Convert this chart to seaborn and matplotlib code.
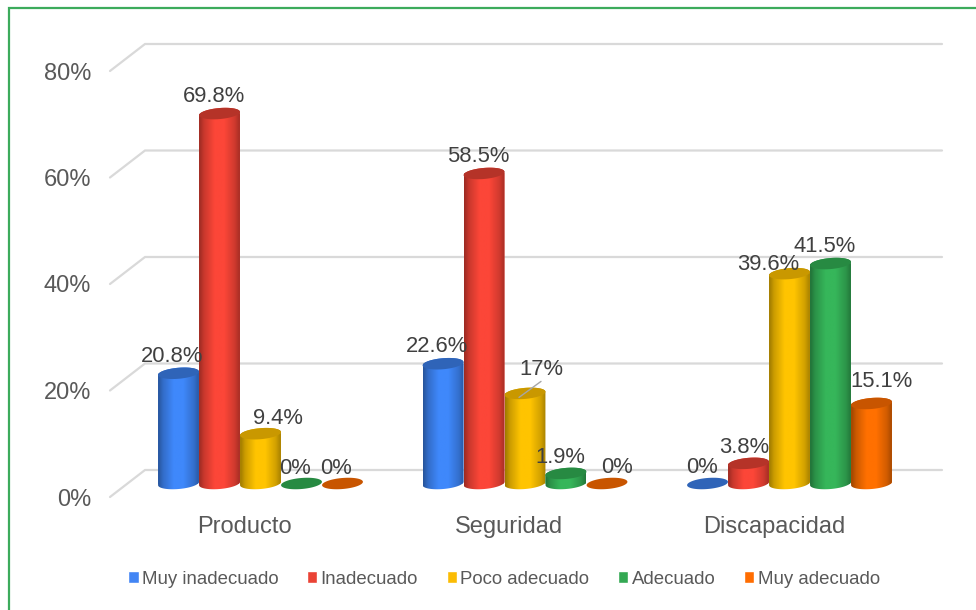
import numpy as np
import pandas as pd
import matplotlib
matplotlib.use("Agg")
import matplotlib.pyplot as plt
import seaborn as sns
from matplotlib.lines import Line2D
from matplotlib.patches import Polygon
from matplotlib.path import Path
from matplotlib.colors import to_rgb
from matplotlib.transforms import IdentityTransform

# ---- data ----
categories = ["Producto", "Seguridad", "Discapacidad"]
series_names = ["Muy inadecuado", "Inadecuado", "Poco adecuado", "Adecuado", "Muy adecuado"]
muy_inadecuado = [20.8, 22.6, 0]
inadecuado = [69.8, 58.5, 3.8]
poco_adecuado = [9.4, 17, 39.6]
adecuado = [0, 1.9, 41.5]
muy_adecuado = [0, 0, 15.1]
label_texts = [
    ["20.8%", "22.6%", "0%"],
    ["69.8%", "58.5%", "3.8%"],
    ["9.4%", "17%", "39.6%"],
    ["0%", "1.9%", "41.5%"],
    ["0%", "0%", "15.1%"],
]
y_ticks = [0, 20, 40, 60, 80]
y_tick_labels = ["0%", "20%", "40%", "60%", "80%"]

# ---- style ----
legend_colors = ["#4285F4", "#EA4335", "#FBBC04", "#34A853", "#FF6D01"]
body_colors = ["#3F88FB", "#FC4638", "#FFC400", "#36B65A", "#FF7000"]
top_colors = ["#2F64B8", "#B53328", "#C99800", "#278A42", "#C85500"]
label_offsets = [  # pixels from bar centre / bar top
    [(-6.5, 17), (-6, 17), (-5.5, 16)],
    [(-5.5, 17), (-6, 17), (-4.5, 16)],
    [(17.5, 15), (16, 24), (-21.5, 9)],
    [(-6.5, 15), (-6, 16), (-5.5, 17)],
    [(-6.5, 15), (10, 16), (10.5, 22)],
]
W, H = 976, 610
AXIS_GREY = "#595959"
LABEL_GREY = "#404040"

sns.set_theme(style="white")
plt.rcParams["font.family"] = ["Liberation Sans", "DejaVu Sans"]

df = pd.DataFrame({
    "categoria": categories * len(series_names),
    "serie": np.repeat(series_names, len(categories)),
    "valor": muy_inadecuado + inadecuado + poco_adecuado + adecuado + muy_adecuado,
})

fig = plt.figure(figsize=(W / 100, H / 100), dpi=100, facecolor="white")


def px_rect(left, top, right, bottom):
    return [left / W, 1 - bottom / H, (right - left) / W, (bottom - top) / H]


# ---- back wall axes: percent ticks, categories, grid ----
wall = fig.add_axes(px_rect(110, 71, 907, 497), zorder=0)
wall.set_ylim(0, 80)
wall.set_xlim((110 - 244.5) / 264.7, (907 - 244.5) / 264.7)
wall.set_yticks(y_ticks, y_tick_labels)
wall.set_xticks(range(len(categories)), categories)
wall.tick_params(axis="y", length=0, pad=13.5, labelsize=17, labelcolor=AXIS_GREY)
wall.tick_params(axis="x", length=0, pad=13.5, labelsize=17, labelcolor=AXIS_GREY)
sns.despine(ax=wall, left=True, bottom=True)
wall.grid(False)
for tick in y_ticks:
    px, py = wall.transData.transform((wall.get_xlim()[0], tick))
    wall.add_line(Line2D([px, px + 35, 942], [py, py + 27, py + 27],
                         transform=IdentityTransform(), color="#D9D9D9", lw=1.6,
                         clip_on=False, solid_joinstyle="miter"))
# the lowest percent label sits slightly above its tick in the reference
for label, nudge in zip(wall.get_yticklabels(), [1.5, 0.5, 0, 0, 0]):
    label.set_y(nudge * 80 / 426)

# ---- bars ----
ax = fig.add_axes([0, 0, 1, 1], zorder=1)
sns.barplot(data=df, x="categoria", y="valor", hue="serie", order=categories,
            hue_order=series_names, palette=legend_colors, width=0.775, gap=0,
            saturation=1, ax=ax, errorbar=None)
ax.patch.set_alpha(0)
xlim = (-260.5 / 264.5, (W - 260.5) / 264.5)
ylim = (-(H - 483.5) / 5.3, 483.5 / 5.3)
ax.set_xlim(xlim)
ax.set_ylim(ylim)
ax.set_axis_off()

THETA = np.deg2rad(5)
B = 5.5


def ellipse_points(cx, cy, a, t):
    return np.column_stack([
        cx + a * np.cos(t) * np.cos(THETA) - B * np.sin(t) * np.sin(THETA),
        cy + a * np.cos(t) * np.sin(THETA) + B * np.sin(t) * np.cos(THETA),
    ])


ramp_pos = [0, 0.12, 0.38, 0.62, 0.88, 1]
ramp_val = [0.62, 0.80, 1.0, 1.0, 0.82, 0.66]
z = 3
for s, container in enumerate(ax.containers):
    for c, bar in enumerate(container.patches):
        value = bar.get_height()
        x0, x1 = bar.get_x(), bar.get_x() + bar.get_width()
        (dx0, base), (dx1, top) = ax.transData.transform([(x0, 0), (x1, value)])
        cx, a = (dx0 + dx1) / 2, (dx1 - dx0) / 2
        lower = ellipse_points(cx, base, a, np.linspace(np.pi, 2 * np.pi, 40))
        upper = ellipse_points(cx, top, a, np.linspace(0, np.pi, 40))
        outline = np.vstack([lower, upper])
        body = Path(np.vstack([outline, outline[:1]]), closed=True)
        bar.set_zorder(z)
        bar.set_linewidth(0)
        bar.set_clip_path(body, IdentityTransform())
        if value > 0:
            shade = np.interp(np.linspace(0, 1, 64), ramp_pos, ramp_val)
            strip = np.outer(shade, to_rgb(body_colors[s]))[None, :, :]
            image = ax.imshow(strip, extent=[x0, x1, -3, value + 3], aspect="auto",
                              interpolation="bilinear", zorder=z + 0.1)
            image.set_clip_path(body, IdentityTransform())
        cap = ellipse_points(cx, top, a, np.linspace(0, 2 * np.pi, 90))
        ax.add_patch(Polygon(cap, closed=True, transform=IdentityTransform(),
                             facecolor=top_colors[s], edgecolor="none", zorder=z + 0.2))
        dx, dy = label_offsets[s][c]
        ax.annotate(label_texts[s][c], xy=(cx, top), xycoords=IdentityTransform(),
                    xytext=(dx, dy), textcoords="offset pixels", ha="center", va="center",
                    fontsize=15.8, color=LABEL_GREY, zorder=20)
        if label_texts[s][c] == "17%":
            ax.add_line(Line2D([cx - 6, cx + 16], [top - 4, top + 12],
                               transform=IdentityTransform(), color="#A6A6A6", lw=1.0, zorder=19))
        z += 1
ax.set_xlim(xlim)
ax.set_ylim(ylim)

# ---- legend ----
sns.move_legend(ax, "center", bbox_to_anchor=(504 / W, 1 - 579 / H), ncol=5, frameon=False,
                title=None, fontsize=13.4, labelcolor=AXIS_GREY, handlelength=0.55,
                handleheight=0.55, handletextpad=0.17, columnspacing=1.55)

# ---- outer frame ----
frame = "#3CAB5C"
fig.add_artist(Line2D([8.5 / W, 8.5 / W, 1], [0, 1 - 8 / H, 1 - 8 / H], color=frame, lw=1.6,
                      solid_joinstyle="miter", transform=fig.transFigure))

fig.savefig("out.png", dpi=100)
